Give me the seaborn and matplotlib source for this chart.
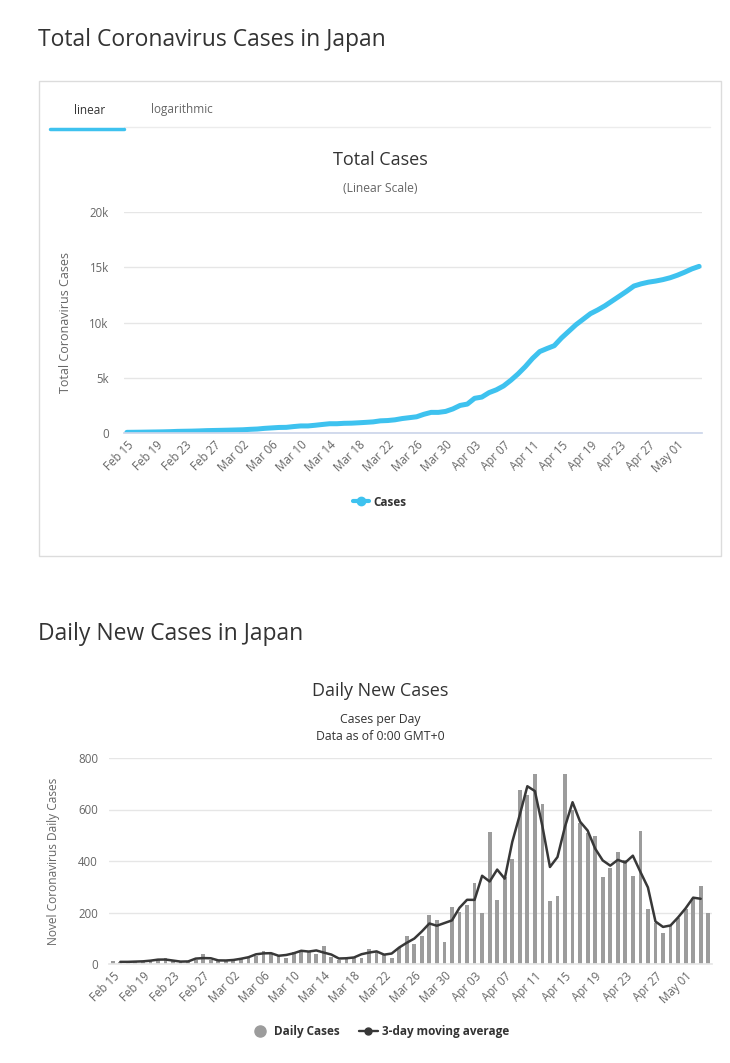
import pandas as pd
import seaborn as sns
import matplotlib.pyplot as plt
from matplotlib.lines import Line2D
from matplotlib.patches import Rectangle

# data (Feb 15 .. May 04, 2020)
dates = pd.date_range('2020-02-15', '2020-05-04')

tick_labels = ['Feb 15', 'Feb 19', 'Feb 23', 'Feb 27', 'Mar 02', 'Mar 06', 'Mar 10',
               'Mar 14', 'Mar 18', 'Mar 22', 'Mar 26', 'Mar 30', 'Apr 03', 'Apr 07',
               'Apr 11', 'Apr 15', 'Apr 19', 'Apr 23', 'Apr 27', 'May 01']

total_cases = [59, 66, 74, 84, 94, 105, 122, 147, 159, 170,
               189, 214, 228, 241, 256, 274, 293, 331, 360, 420,
               461, 502, 511, 581, 639, 639, 701, 773, 839, 839,
               878, 889, 924, 963, 1007, 1101, 1128, 1193, 1307, 1387,
               1468, 1693, 1866, 1866, 1953, 2178, 2495, 2617, 3139, 3250,
               3654, 3906, 4257, 4768, 5347, 6005, 6748, 7370, 7645, 7900,
               8600, 9200, 9800, 10300, 10800, 11135, 11512, 11950, 12388, 12829,
               13300, 13500, 13650, 13750, 13880, 14050, 14280, 14550, 14850, 15080]

daily_cases = [10, 7, 8, 10, 10, 11, 18, 22, 12, 6,
               10, 14, 39, 16, 12, 14, 15, 18, 28, 33,
               52, 39, 35, 22, 48, 55, 51, 39, 68, 26,
               16, 22, 29, 25, 60, 48, 39, 22, 61, 109,
               77, 110, 192, 170, 84, 223, 201, 231, 316, 200,
               512, 249, 339, 406, 677, 655, 739, 621, 245, 264,
               737, 600, 548, 510, 497, 337, 373, 436, 404, 342,
               516, 215, 161, 119, 152, 178, 213, 258, 302, 200]

df = pd.DataFrame({'day': range(len(dates)), 'date': dates,
                   'total': total_cases, 'daily': daily_cases})
df['avg3'] = df['daily'].rolling(3, center=True).mean()

sns.set_theme(style='white')
plt.rcParams['font.family'] = ['Open Sans', 'DejaVu Sans']

W, H = 730, 1063
fig = plt.figure(figsize=(W / 100, H / 100), dpi=100)


def fx(px):
    return px / W


def fy(py):
    return 1 - py / H


blue = '#3ec2ef'
bar_grey = '#9c9c9c'
line_dark = '#383838'
txt = '#333333'
grey_txt = '#666666'

# ---- headings and container box
fig.text(fx(38), fy(40), 'Total Coronavirus Cases in Japan', fontsize=16.5, color=txt, va='center')
fig.text(fx(38), fy(634), 'Daily New Cases in Japan', fontsize=16.5, color=txt, va='center')

fig.add_artist(Rectangle((fx(39), fy(556)), fx(682), 475 / H, transform=fig.transFigure,
                         fill=False, edgecolor='#dcdcdc', lw=1))
fig.text(fx(90), fy(110), 'linear', fontsize=8.5, color=txt, ha='center', va='center')
fig.text(fx(182), fy(110), 'logarithmic', fontsize=8.5, color=grey_txt, ha='center', va='center')
fig.add_artist(Line2D([fx(124), fx(710)], [fy(127), fy(127)], transform=fig.transFigure,
                      color='#ececec', lw=1))
fig.add_artist(Line2D([fx(50), fx(124)], [fy(129), fy(129)], transform=fig.transFigure,
                      color=blue, lw=2.5))

# ---- total cases chart
ax1 = fig.add_axes([fx(124), fy(433), fx(578), 221 / H])
sns.lineplot(data=df, x='day', y='total', ax=ax1, color=blue, lw=3.6,
             solid_capstyle='round')
ax1.set_xlim(-0.4, 79.4)
ax1.set_ylim(0, 20000)
ax1.set_yticks([0, 5000, 10000, 15000, 20000])
ax1.set_yticklabels(['0', '5k', '10k', '15k', '20k'])
ax1.set_ylabel('Total Coronavirus Cases', fontsize=9, color=grey_txt)
ax1.yaxis.set_label_coords(-0.09, 0.5)

fig.text(fx(380), fy(160), 'Total Cases', fontsize=13, color=txt, ha='center', va='center')
fig.text(fx(380), fy(188), '(Linear Scale)', fontsize=8.7, color=grey_txt, ha='center', va='center')
fig.legend(handles=[Line2D([], [], color=blue, lw=3, marker='o', ms=6)], labels=['Cases'],
           loc='center', bbox_to_anchor=(fx(380), fy(502)), frameon=False,
           handlelength=1.3, handletextpad=0.4,
           prop={'size': 8.5, 'weight': 'bold'}, labelcolor=txt)

# ---- daily new cases chart
ax2 = fig.add_axes([fx(109), fy(964), fx(603), 206 / H])
sns.barplot(data=df, x='day', y='daily', ax=ax2, color=bar_grey, saturation=1,
            width=0.5, native_scale=True, errorbar=None, linewidth=0)
sns.lineplot(data=df, x='day', y='avg3', ax=ax2, color=line_dark, lw=1.8)
ax2.set_xlim(-0.5, 79.5)
ax2.set_ylim(0, 800)
ax2.set_yticks([0, 200, 400, 600, 800])
ax2.set_ylabel('Novel Coronavirus Daily Cases', fontsize=8.6, color=grey_txt)
ax2.yaxis.set_label_coords(-0.081, 0.5)

fig.text(fx(380), fy(691), 'Daily New Cases', fontsize=13, color=txt, ha='center', va='center')
fig.text(fx(380), fy(720), 'Cases per Day', fontsize=8.8, color=txt, ha='center', va='center')
fig.text(fx(380), fy(736), 'Data as of 0:00 GMT+0', fontsize=8.8, color=txt, ha='center', va='center')
fig.legend(handles=[Line2D([], [], ls='none', marker='o', color=bar_grey, ms=8),
                    Line2D([], [], color=line_dark, lw=1.7, marker='o', ms=5)],
           labels=['Daily Cases', '3-day moving average'],
           loc='center', bbox_to_anchor=(fx(380), fy(1032)), ncol=2, frameon=False,
           handlelength=1.6, handletextpad=0.4, columnspacing=1.6,
           prop={'size': 8.5, 'weight': 'bold'}, labelcolor=txt)

for ax, pad in [(ax1, 11), (ax2, 8)]:
    ax.set_xticks(range(0, 80, 4))
    ax.set_xticklabels(tick_labels, rotation=45, ha='right', rotation_mode='anchor')
    ax.set_xlabel('')
    ax.grid(axis='y', color='#e6e6e6', lw=1)
    ax.set_axisbelow(True)
    for side in ['top', 'right', 'left']:
        ax.spines[side].set_visible(False)
    ax.spines['bottom'].set_color('#ccd6eb')
    ax.tick_params(axis='both', length=0, colors=grey_txt, labelsize=8.3)
    ax.tick_params(axis='y', pad=pad)
    ax.tick_params(axis='x', pad=4)
ax2.spines['bottom'].set_color('#e6e6e6')

fig.savefig('out.png', dpi=100)
